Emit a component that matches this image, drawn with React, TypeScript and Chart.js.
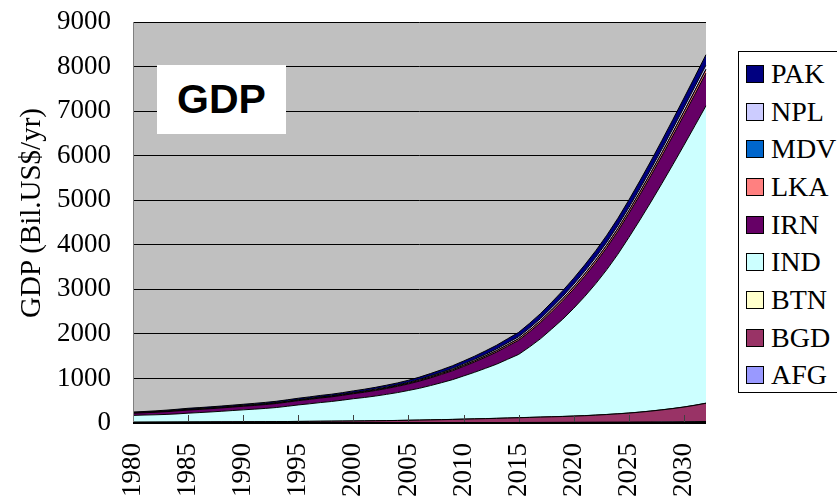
import React, { useEffect, useRef } from "react";
import { Chart, registerables } from "chart.js";

Chart.register(...registerables);

const YEARS = [
  1980, 1981, 1982, 1983, 1984, 1985, 1986, 1987, 1988, 1989,
  1990, 1991, 1992, 1993, 1994, 1995, 1996, 1997, 1998, 1999,
  2000, 2001, 2002, 2003, 2004, 2005, 2006, 2007, 2008, 2009,
  2010, 2011, 2012, 2013, 2014, 2015, 2016, 2017, 2018, 2019,
  2020, 2021, 2022, 2023, 2024, 2025, 2026, 2027, 2028, 2029,
  2030, 2031, 2032,
];

const AFG = [
  4, 4, 4, 4, 4, 4, 4, 4, 4, 4,
  3, 3, 3, 3, 3, 3, 3, 3, 3, 3,
  3, 3, 4, 4, 5, 6, 6, 7, 7, 8,
  9, 9, 10, 11, 11, 12, 13, 14, 15, 16,
  17, 18, 19, 20, 21, 22, 24, 25, 27, 28,
  30, 32, 34,
];
const BGD = [
  14, 15, 16, 17, 18, 19, 20, 21, 22, 23,
  25, 26, 27, 29, 30, 32, 34, 36, 38, 40,
  42, 44, 46, 49, 52, 55, 59, 63, 68, 72,
  77, 83, 88, 93, 100, 106, 112, 118, 124, 130,
  137, 146, 157, 170, 184, 200, 219, 242, 267, 296,
  327, 365, 408,
];
const BTN = [
  0.2, 0.2, 0.2, 0.3, 0.3, 0.3, 0.3, 0.3, 0.4, 0.4,
  0.4, 0.4, 0.4, 0.4, 0.4, 0.5, 0.5, 0.5, 0.5, 0.5,
  0.5, 0.6, 0.6, 0.7, 0.7, 0.8, 0.9, 1.0, 1.0, 1.1,
  1.2, 1.2, 1.3, 1.4, 1.5, 1.6, 1.7, 1.8, 1.9, 2.0,
  2.1, 2.2, 2.3, 2.4, 2.5, 2.6, 2.7, 2.8, 3.0, 3.1,
  3.2, 3.4, 3.5,
];
const IND = [
  152, 159, 164, 171, 182, 197, 209, 222, 236, 252,
  267, 281, 297, 315, 342, 370, 393, 419, 441, 469,
  500, 525, 554, 589, 625, 668, 714, 769, 829, 892,
  968, 1045, 1129, 1215, 1318, 1420, 1583, 1761, 1969, 2182,
  2420, 2675, 2950, 3250, 3580, 3940, 4310, 4690, 5080, 5475,
  5875, 6275, 6675,
];
const IRN = [
  48, 51, 56, 61, 67, 70, 71, 73, 75, 77,
  80, 83, 86, 90, 93, 96, 99, 102, 104, 108,
  112, 118, 125, 131, 139, 147, 160, 173, 186, 200,
  214, 232, 251, 272, 294, 317, 339, 362, 384, 410,
  432, 453, 474, 495, 516, 538, 563, 590, 618, 648,
  677, 705, 733,
];
const LKA = [
  5, 5.6, 6, 7, 7, 8, 8, 8, 8, 8,
  9, 9, 9, 10, 10, 10, 11, 11, 11, 12,
  12, 13, 14, 14, 15, 16, 17, 19, 20, 22,
  23, 25, 27, 30, 32, 35, 37, 40, 42, 45,
  47, 50, 52, 54, 56, 59, 62, 65, 68, 71,
  74, 77, 80,
];
const MDV = [
  0.5, 0.6, 0.6, 0.7, 0.7, 0.8, 0.8, 0.8, 0.8, 0.9,
  0.9, 0.9, 1, 1, 1, 1, 1.1, 1.1, 1.2, 1.2,
  1.3, 1.3, 1.4, 1.5, 1.6, 1.7, 1.8, 2, 2.1, 2.3,
  2.5, 2.7, 2.9, 3.1, 3.4, 3.6, 3.9, 4.1, 4.4, 4.7,
  5, 5.2, 5.4, 5.6, 5.9, 6.1, 6.4, 6.7, 7.1, 7.4,
  7.8, 8.1, 8.4,
];
const NPL = [
  6, 6.4, 7, 8, 8, 9, 9, 9, 9, 10,
  10, 10, 11, 11, 12, 12, 12, 13, 13, 13,
  14, 15, 16, 16, 17, 18, 20, 22, 23, 25,
  27, 29, 31, 34, 37, 40, 42, 45, 48, 51,
  54, 57, 59, 62, 64, 67, 70, 74, 77, 81,
  85, 88, 92,
];
const PAK = [
  16, 16, 18, 19, 21, 22, 23, 24, 25, 25,
  25, 27, 28, 28, 29, 31, 32, 33, 34, 34,
  36, 38, 39, 43, 44, 47, 51, 54, 59, 63,
  69, 73, 80, 86, 94, 99, 108, 114, 122, 129,
  137, 143, 150, 156, 164, 170, 179, 186, 196, 205,
  214, 224, 233,
];

const Y_TICKS = [0, 1000, 2000, 3000, 4000, 5000, 6000, 7000, 8000, 9000];

const SERIES = [
  { name: "AFG", data: AFG, color: "#9999FF" },
  { name: "BGD", data: BGD, color: "#993366" },
  { name: "BTN", data: BTN, color: "#FFFFCC" },
  { name: "IND", data: IND, color: "#CCFFFF" },
  { name: "IRN", data: IRN, color: "#660066" },
  { name: "LKA", data: LKA, color: "#FF8080" },
  { name: "MDV", data: MDV, color: "#0066CC" },
  { name: "NPL", data: NPL, color: "#CCCCFF" },
  { name: "PAK", data: PAK, color: "#000080" },
];

const SERIF = "'Liberation Serif', 'Times New Roman', serif";

const plotDecor = {
  id: "plotDecor",
  beforeDraw(chart: any) {
    const { ctx, chartArea } = chart;
    ctx.save();
    ctx.fillStyle = "#C0C0C0";
    ctx.fillRect(chartArea.left, chartArea.top, chartArea.right - chartArea.left, chartArea.bottom - chartArea.top);
    ctx.restore();
  },
  afterDatasetsDraw(chart: any) {
    const { ctx, chartArea } = chart;
    const xs = chart.scales.x;
    ctx.save();
    ctx.strokeStyle = "#404040";
    ctx.lineWidth = 1;
    YEARS.forEach((yr, i) => {
      if (yr % 5 === 0 && i > 0) {
        const x = Math.round(xs.getPixelForValue(i)) + 0.5;
        ctx.beginPath();
        ctx.moveTo(x, chartArea.bottom);
        ctx.lineTo(x, chartArea.bottom - 8);
        ctx.stroke();
      }
    });
    ctx.strokeStyle = "#808080";
    ctx.beginPath();
    ctx.moveTo(chartArea.left + 0.5, chartArea.top);
    ctx.lineTo(chartArea.left + 0.5, chartArea.bottom);
    ctx.stroke();
    ctx.strokeStyle = "#000";
    ctx.lineWidth = 2;
    ctx.beginPath();
    ctx.moveTo(chartArea.left, chartArea.bottom);
    ctx.lineTo(chartArea.right, chartArea.bottom);
    ctx.stroke();
    ctx.restore();
  },
};

function GdpChart() {
  const ref = useRef<HTMLCanvasElement | null>(null);
  useEffect(() => {
    if (!ref.current) return;
    const chart = new Chart(ref.current, {
      type: "line",
      data: {
        labels: YEARS.map(String),
        datasets: SERIES.map((s, i) => ({
          label: s.name,
          data: s.data,
          backgroundColor: s.color,
          borderColor: "#000000",
          borderWidth: 1,
          pointRadius: 0,
          pointHoverRadius: 0,
          tension: 0,
          fill: i === 0 ? "origin" : "-1",
        })),
      },
      options: {
        responsive: false,
        animation: false,
        events: [],
        layout: { padding: { top: 22, right: 131, left: 0, bottom: 0 } },
        plugins: {
          legend: { display: false },
          tooltip: { enabled: false },
          title: { display: false },
        },
        scales: {
          x: {
            type: "category",
            offset: false,
            grid: { display: false, drawTicks: false },
            border: { display: false },
            ticks: {
              autoSkip: false,
              maxRotation: 90,
              minRotation: 90,
              padding: 20,
              color: "#000",
              font: { family: SERIF, size: 27 },
              callback: (_v: any, idx: number) => (YEARS[idx] % 5 === 0 ? String(YEARS[idx]) : ""),
            },
            afterFit: (scale: any) => {
              scale.height = 78;
              scale.paddingTop = 0;
              scale.paddingBottom = 0;
              scale.paddingLeft = 0;
              scale.paddingRight = 0;
            },
          },
          y: {
            stacked: true,
            min: Y_TICKS[0],
            max: Y_TICKS[Y_TICKS.length - 1],
            grid: { color: "#000000", lineWidth: 1, drawTicks: false },
            border: { display: false },
            ticks: {
              stepSize: 1000,
              padding: 22,
              color: "#000",
              font: { family: SERIF, size: 27 },
              callback: (v: any) => String(v),
            },
            afterFit: (scale: any) => {
              scale.width = 133;
              scale.paddingTop = 0;
              scale.paddingBottom = 0;
            },
          },
        },
      },
      plugins: [plotDecor],
    });
    return () => chart.destroy();
  }, []);
  return <canvas ref={ref} width={837} height={501} style={{ position: "absolute", left: 0, top: 0 }} />;
}

export default function App() {
  const legendItems = [...SERIES].reverse();
  return (
    <div
      style={{
        position: "absolute",
        left: 0,
        top: 0,
        width: 837,
        height: 501,
        overflow: "hidden",
        background: "#fff",
      }}
    >
      <GdpChart />
      <div
        style={{
          position: "absolute",
          left: 157,
          top: 65,
          width: 129,
          height: 69,
          background: "#fff",
          display: "flex",
          alignItems: "center",
          justifyContent: "center",
          fontFamily: "'Liberation Sans', Arial, sans-serif",
          fontWeight: "bold",
          fontSize: 41,
          color: "#000",
        }}
      >
        GDP
      </div>
      <div
        style={{
          position: "absolute",
          left: 30 - 160,
          top: 213 - 17,
          width: 320,
          height: 34,
          lineHeight: "34px",
          textAlign: "center",
          transform: "rotate(-90deg)",
          fontFamily: SERIF,
          fontSize: 29,
          color: "#000",
          whiteSpace: "nowrap",
        }}
      >
        GDP (Bil.US$/yr)
      </div>
      <div
        style={{
          position: "absolute",
          left: 738,
          top: 51,
          width: 120,
          height: 342,
          border: "1px solid #000",
          background: "#fff",
          boxSizing: "border-box",
          paddingTop: 3,
        }}
      >
        {legendItems.map((s) => (
          <div
            key={s.name}
            style={{ display: "flex", alignItems: "center", height: 37.7, whiteSpace: "nowrap" }}
          >
            <div
              style={{
                marginLeft: 7,
                width: 18,
                height: 18,
                boxSizing: "border-box",
                border: "1px solid #000",
                background: s.color,
                flex: "none",
              }}
            />
            <span
              style={{
                marginLeft: 7,
                fontFamily: SERIF,
                fontSize: 28,
                lineHeight: "30px",
                color: "#000",
              }}
            >
              {s.name}
            </span>
          </div>
        ))}
      </div>
    </div>
  );
}
